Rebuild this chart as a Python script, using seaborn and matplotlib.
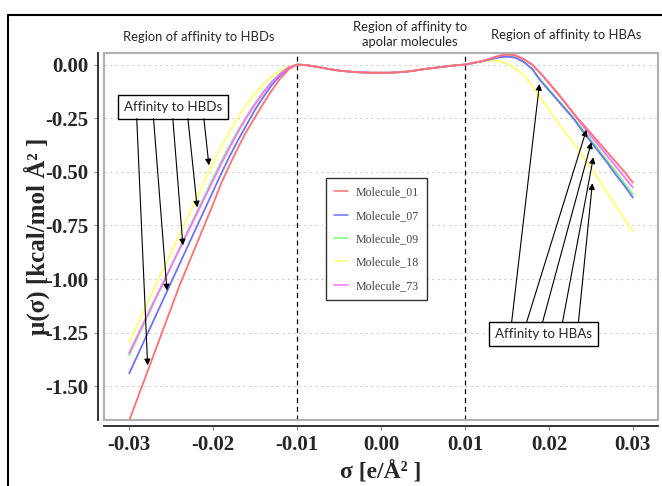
import numpy as np
import pandas as pd
import matplotlib
matplotlib.use("Agg")
import matplotlib.pyplot as plt
import seaborn as sns
from matplotlib.lines import Line2D
from matplotlib.patches import Rectangle

# sigma grid [e/A^2], step 0.001
sigma = np.round(np.linspace(-0.03, 0.03, 61), 3)

# mu(sigma): left part (-0.030 .. -0.011)
left_01 = [-1.66, -1.555, -1.45, -1.345, -1.24, -1.135, -1.03, -0.935, -0.84, -0.745,
           -0.65, -0.55, -0.465, -0.385, -0.31, -0.245, -0.18, -0.12, -0.065, -0.022]
left_07 = [-1.44, -1.355, -1.27, -1.185, -1.10, -1.015, -0.93, -0.845, -0.76, -0.675,
           -0.59, -0.505, -0.425, -0.35, -0.28, -0.21, -0.15, -0.095, -0.05, -0.015]
left_09 = [-1.355, -1.272, -1.19, -1.107, -1.024, -0.94, -0.857, -0.775, -0.692, -0.61,
           -0.53, -0.45, -0.375, -0.305, -0.24, -0.18, -0.125, -0.078, -0.04, -0.012]
left_18 = [-1.295, -1.211, -1.127, -1.043, -0.96, -0.876, -0.792, -0.708, -0.625, -0.541,
           -0.458, -0.38, -0.31, -0.245, -0.185, -0.135, -0.09, -0.055, -0.027, -0.008]
left_73 = [-1.345, -1.263, -1.182, -1.10, -1.02, -0.94, -0.86, -0.78, -0.70, -0.62,
           -0.54, -0.46, -0.385, -0.312, -0.245, -0.185, -0.13, -0.082, -0.043, -0.013]

# middle part (-0.010 .. 0.010), all molecules overlap
mid_all = [0.000, -0.002, -0.008, -0.015, -0.022, -0.028, -0.032, -0.035, -0.037, -0.038,
           -0.038, -0.038, -0.036, -0.033, -0.028, -0.022, -0.017, -0.012, -0.007, -0.003, 0.000]

# right part (0.011 .. 0.030)
right_01 = [0.008, 0.016, 0.027, 0.040, 0.047, 0.043, 0.025, 0.0, -0.04, -0.085,
            -0.13, -0.18, -0.23, -0.275, -0.32, -0.365, -0.41, -0.455, -0.50, -0.55]
right_07 = [0.007, 0.015, 0.024, 0.033, 0.037, 0.032, 0.012, -0.02, -0.075, -0.12,
            -0.165, -0.21, -0.255, -0.31, -0.36, -0.41, -0.46, -0.515, -0.565, -0.62]
right_09 = [0.007, 0.015, 0.025, 0.035, 0.040, 0.035, 0.015, -0.02, -0.07, -0.115,
            -0.16, -0.205, -0.25, -0.30, -0.35, -0.40, -0.45, -0.50, -0.553, -0.605]
right_18 = [0.008, 0.014, 0.019, 0.018, 0.005, -0.02, -0.047, -0.10, -0.155, -0.21,
            -0.265, -0.32, -0.37, -0.425, -0.48, -0.54, -0.60, -0.66, -0.72, -0.778]
right_73 = [0.008, 0.016, 0.028, 0.041, 0.048, 0.044, 0.026, 0.0, -0.04, -0.087,
            -0.134, -0.182, -0.233, -0.283, -0.333, -0.38, -0.428, -0.476, -0.525, -0.573]

molecules = ["Molecule_01", "Molecule_07", "Molecule_09", "Molecule_18", "Molecule_73"]
lefts = [left_01, left_07, left_09, left_18, left_73]
rights = [right_01, right_07, right_09, right_18, right_73]
colors = {"Molecule_01": "#ff7070", "Molecule_07": "#7070ff", "Molecule_09": "#70ff70",
          "Molecule_18": "#ffff70", "Molecule_73": "#ff70ff"}
draw_order = ["Molecule_18", "Molecule_09", "Molecule_07", "Molecule_73", "Molecule_01"]

yticks = [0.0, -0.25, -0.5, -0.75, -1.0, -1.25, -1.5]
xticks = [-0.03, -0.02, -0.01, 0.0, 0.01, 0.02, 0.03]

rows = []
for name, lv, rv in zip(molecules, lefts, rights):
    for s, m in zip(sigma, lv + mid_all + rv):
        rows.append({"sigma": s, "mu": m, "molecule": name})
df = pd.DataFrame(rows)

sns.set_style("white")
plt.rcParams["font.family"] = ["Liberation Serif", "DejaVu Serif"]

fig = plt.figure(figsize=(6.62, 4.86), dpi=100)
ax = fig.add_axes([104 / 662, 1 - 420 / 486, 554 / 662, 367 / 486])

sns.lineplot(data=df, x="sigma", y="mu", hue="molecule", hue_order=draw_order,
             palette=colors, linewidth=1.3, ax=ax, legend=True)

# gray frame around plot area, offset black spines (before tick setup: set_position resets ticks)
ax.add_patch(Rectangle((0, 0), 1, 1, transform=ax.transAxes, fill=False,
                       edgecolor="#b0b0b0", linewidth=1.5, zorder=5, clip_on=False))
for side in ["top", "right"]:
    ax.spines[side].set_visible(False)
for side in ["left", "bottom"]:
    ax.spines[side].set_position(("outward", 4))
    ax.spines[side].set_color("#222222")
    ax.spines[side].set_linewidth(1.3)

ax.set_xlim(-0.033, 0.033)
ax.set_ylim(-1.657, 0.054)
ax.set_xticks(xticks)
ax.set_yticks(yticks)
ax.set_xticklabels([f"{t:.2f}" for t in xticks])
ax.set_yticklabels([f"{t:.2f}" for t in yticks])
ax.tick_params(axis="both", direction="out", length=3, width=0.8, color="#888888",
               left=True, bottom=True, pad=4, labelsize=15)
for lab in ax.get_xticklabels() + ax.get_yticklabels():
    lab.set_fontweight("bold")

for t in yticks:
    ax.axhline(t, color="#d0d0d0", linestyle=(0, (2, 3)), linewidth=0.8, zorder=0)
for v in [-0.01, 0.01]:
    ax.axvline(v, color="black", linestyle=(0, (4, 3)), linewidth=0.9, zorder=1)

ax.set_xlabel("σ [e/Å² ]", fontsize=17, fontweight="bold", labelpad=4)
ax.set_ylabel("μ(σ) [kcal/mol Å² ]", fontsize=18, fontweight="bold", labelpad=-3)

# legend in data order 01, 07, 09, 18, 73
handles, labels = ax.get_legend_handles_labels()
lookup = dict(zip(labels, handles))
leg = ax.legend([lookup[m] for m in molecules], molecules, loc="upper left",
                bbox_to_anchor=(0.40, 0.659), borderaxespad=0, fontsize=8.6, frameon=True,
                fancybox=False, edgecolor="#333333", framealpha=1, labelspacing=0.95,
                handlelength=1.2, handletextpad=0.6, borderpad=0.7)
for txt in leg.get_texts():
    txt.set_color("#444444")
for ln in leg.get_lines():
    ln.set_linewidth(1.1)
leg.get_frame().set_linewidth(1.0)

# annotation boxes with arrows
sans = ["Lato", "DejaVu Sans"]
box = dict(boxstyle="square,pad=0.45", facecolor="white", edgecolor="black", linewidth=1.0)
arrow = dict(arrowstyle="-|>", color="black", lw=0.8, mutation_scale=9, shrinkA=0, shrinkB=0)

ax.text(-0.0248, -0.196, "Affinity to HBDs", family=sans, fontsize=9.6,
        ha="center", va="center", bbox=box, zorder=6)
hbd_starts = [-0.0291, -0.0271, -0.0248, -0.0230, -0.0211]
hbd_tips = [(-0.0278, -1.402), (-0.0255, -1.053), (-0.0236, -0.843),
            (-0.0219, -0.666), (-0.0205, -0.470)]
for sx, tip in zip(hbd_starts, hbd_tips):
    ax.annotate("", xy=tip, xytext=(sx, -0.252), arrowprops=arrow, zorder=6)

ax.text(0.0193, -1.258, "Affinity to HBAs", family=sans, fontsize=9.6,
        ha="center", va="center", bbox=box, zorder=6)
hba_starts = [0.01556, 0.01734, 0.01924, 0.02162, 0.02352]
hba_tips = [(0.01888, -0.090), (0.02447, -0.304), (0.02506, -0.362),
            (0.0253, -0.432), (0.02518, -0.553)]
for sx, tip in zip(hba_starts, hba_tips):
    ax.annotate("", xy=tip, xytext=(sx, -1.202), arrowprops=arrow, zorder=6)

# region headers
fig.text(199 / 662, 1 - 37 / 486, "Region of affinity to HBDs", family=sans,
         fontsize=9.4, ha="center", va="center")
fig.text(410 / 662, 1 - 34.5 / 486, "Region of affinity to\napolar molecules", family=sans,
         fontsize=9.4, ha="center", va="center", linespacing=1.3)
fig.text(566 / 662, 1 - 35 / 486, "Region of affinity to HBAs", family=sans,
         fontsize=9.4, ha="center", va="center")

# outer frame (cut off at right and bottom)
fx, fy = 8 / 662, 1 - 15 / 486
fig.add_artist(Line2D([fx, fx], [0, fy], color="black", linewidth=1.5))
fig.add_artist(Line2D([fx, 1], [fy, fy], color="black", linewidth=1.5))

fig.savefig("out.png", dpi=100)
